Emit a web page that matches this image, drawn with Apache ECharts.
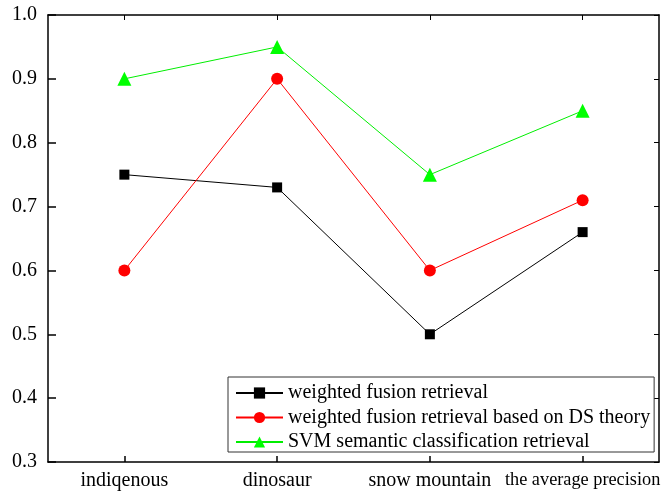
<!DOCTYPE html>
<html><head><meta charset="utf-8">
<script src="https://cdn.jsdelivr.net/npm/echarts@6/dist/echarts.min.js"></script>
<style>html,body{margin:0;padding:0;background:#fff}#c{width:662px;height:495px}</style>
</head><body><div id="c"></div>
<script>
const categories = ['indiqenous', 'dinosaur', 'snow mountain', 'the average precision'];
const seriesNames = ['weighted fusion retrieval', 'weighted fusion retrieval based on DS theory', 'SVM semantic classification retrieval'];
const weightedFusion = [0.75, 0.73, 0.50, 0.66];
const dsTheory = [0.60, 0.90, 0.60, 0.71];
const svmSemantic = [0.90, 0.95, 0.75, 0.85];
const yTicks = [0.3, 0.4, 0.5, 0.6, 0.7, 0.8, 0.9, 1.0];

const font = 'Liberation Serif';
const chart = echarts.init(document.getElementById('c'));
const axisLine = {show: true, lineStyle: {color: '#000', width: 1.5}};
chart.setOption({
  animation: false,
  grid: {left: 48, right: 3, top: 15, bottom: 33, containLabel: false, outerBoundsMode: 'none'},
  xAxis: [{
    type: 'category', data: categories, boundaryGap: true,
    axisLine: axisLine,
    axisTick: {show: true, inside: true, alignWithLabel: true, length: 6, lineStyle: {color: '#000', width: 1.5}},
    axisLabel: {color: '#000', fontFamily: font, fontSize: 20, margin: 9, interval: 0, hideOverlap: false,
      formatter: (v, i) => i === categories.length - 1 ? '{n|' + v + '}' : v,
      rich: {n: {fontFamily: font, fontSize: 18.3, color: '#000'}}},
    splitLine: {show: false}
  }, {
    type: 'category', data: categories, position: 'top', boundaryGap: true,
    axisLine: axisLine,
    axisTick: {show: true, inside: true, alignWithLabel: true, length: 5, lineStyle: {color: '#000', width: 1}},
    axisLabel: {show: false}, splitLine: {show: false}
  }],
  yAxis: [{
    type: 'value', min: 0.3, max: 1.0, interval: 0.1,
    axisLine: axisLine,
    axisTick: {show: true, inside: true, length: 8, lineStyle: {color: '#000', width: 1.5}},
    axisLabel: {color: '#000', fontFamily: font, fontSize: 20, margin: 11,
      formatter: v => {
        const t = yTicks.find(x => Math.abs(x - v) < 1e-6);
        return (t !== undefined ? t : v).toFixed(1);
      }},
    splitLine: {show: false}
  }, {
    type: 'value', min: 0.3, max: 1.0, interval: 0.1, position: 'right',
    axisLine: axisLine,
    axisTick: {show: true, inside: true, length: 5, lineStyle: {color: '#000', width: 1}},
    axisLabel: {show: false}, splitLine: {show: false}
  }],
  legend: {
    orient: 'vertical', left: 228, top: 377,
    backgroundColor: '#fff',
    borderColor: '#333', borderWidth: 1, borderRadius: 0,
    padding: [6, 4, 0, 7],
    itemWidth: 47, itemHeight: 14, itemGap: 4.5,
    textStyle: {fontFamily: font, fontSize: 20, color: '#000'},
    data: seriesNames
  },
  series: [
    {name: seriesNames[0], type: 'line', data: weightedFusion, symbol: 'rect', symbolSize: 10,
      lineStyle: {color: '#000', width: 1}, itemStyle: {color: '#000'}, z: 3},
    {name: seriesNames[1], type: 'line', data: dsTheory, symbol: 'circle', symbolSize: 12,
      lineStyle: {color: '#ff0000', width: 1}, itemStyle: {color: '#ff0000'}, z: 4},
    {name: seriesNames[2], type: 'line', data: svmSemantic, symbol: 'triangle', symbolSize: 14,
      lineStyle: {color: '#00ee00', width: 1}, itemStyle: {color: '#00ff00'}, z: 5}
  ]
});
</script></body></html>
